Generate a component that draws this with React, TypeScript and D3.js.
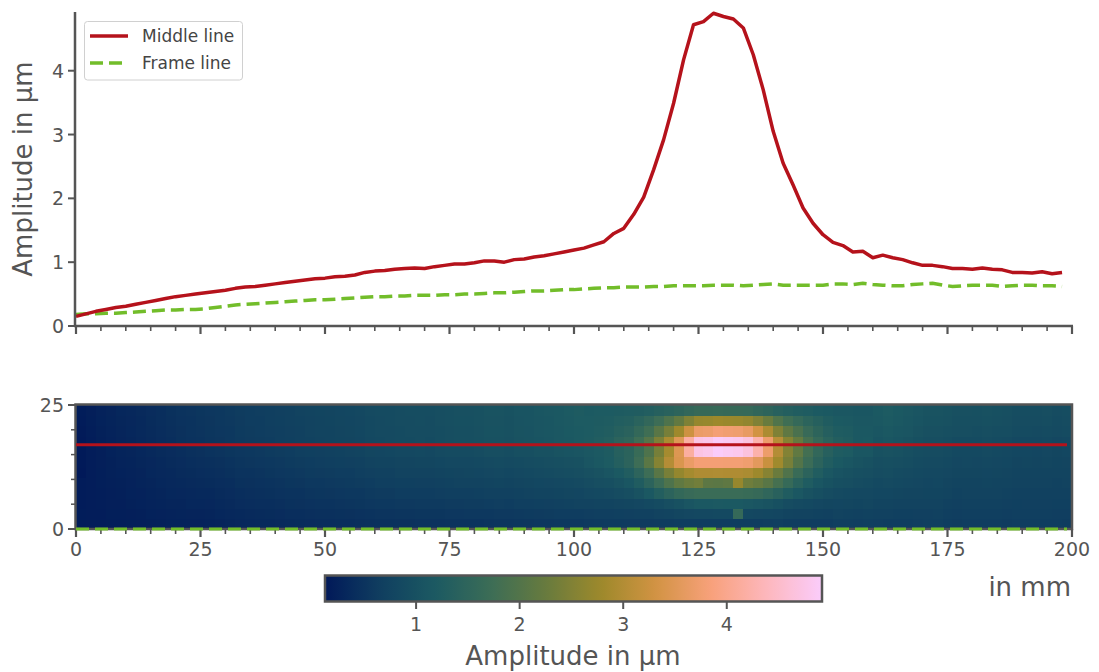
import React from 'react';
import * as d3 from 'd3';

// ---------------- data ----------------
const xTickLabels = [0, 25, 50, 75, 100, 125, 150, 175, 200];
const yTopTicks = [0, 1, 2, 3, 4];
const yHeatTicks = [0, 25];
const colorbarTicks = [1, 2, 3, 4];
const sampleStepMm = 2; // spacing of samples / cells along x (mm)
const rowHeight = 25 / 12; // 12 rows over 25 mm
const middleLineY = 17;
const frameLineY = 0;

const middleLine = [
  0.15, 0.19, 0.23, 0.26, 0.29, 0.31, 0.34, 0.37, 0.40, 0.43,
  0.46, 0.48, 0.50, 0.52, 0.54, 0.56, 0.59, 0.61, 0.62, 0.64,
  0.66, 0.68, 0.70, 0.72, 0.74, 0.75, 0.77, 0.78, 0.80, 0.84,
  0.86, 0.87, 0.89, 0.90, 0.91, 0.90, 0.93, 0.95, 0.97, 0.97,
  0.99, 1.02, 1.02, 1.00, 1.04, 1.05, 1.08, 1.10, 1.13, 1.16,
  1.19, 1.22, 1.27, 1.32, 1.45, 1.53, 1.75, 2.02, 2.45, 2.92,
  3.49, 4.17, 4.72, 4.77, 4.90, 4.85, 4.81, 4.67, 4.25, 3.70,
  3.05, 2.55, 2.21, 1.85, 1.61, 1.43, 1.31, 1.26, 1.16, 1.17,
  1.07, 1.11, 1.07, 1.04, 0.99, 0.95, 0.95, 0.93, 0.90, 0.90,
  0.89, 0.91, 0.89, 0.88, 0.84, 0.84, 0.83, 0.85, 0.82, 0.84,
];

const frameLine = [
  0.18, 0.19, 0.19, 0.20, 0.20, 0.21, 0.22, 0.23, 0.24, 0.25,
  0.25, 0.26, 0.26, 0.27, 0.29, 0.31, 0.33, 0.34, 0.35, 0.36,
  0.37, 0.38, 0.39, 0.40, 0.41, 0.41, 0.42, 0.43, 0.44, 0.45,
  0.46, 0.46, 0.47, 0.47, 0.48, 0.48, 0.48, 0.49, 0.49, 0.50,
  0.50, 0.51, 0.52, 0.52, 0.53, 0.54, 0.55, 0.55, 0.56, 0.57,
  0.57, 0.58, 0.59, 0.60, 0.60, 0.61, 0.61, 0.61, 0.62, 0.62,
  0.63, 0.63, 0.63, 0.63, 0.64, 0.64, 0.64, 0.63, 0.64, 0.65,
  0.66, 0.64, 0.64, 0.64, 0.64, 0.64, 0.66, 0.66, 0.65, 0.67,
  0.65, 0.64, 0.63, 0.63, 0.65, 0.66, 0.67, 0.64, 0.62, 0.63,
  0.64, 0.64, 0.64, 0.62, 0.63, 0.64, 0.64, 0.63, 0.63, 0.62,
];

const heatRow1 = [
  0.18, 0.19, 0.19, 0.21, 0.21, 0.22, 0.23, 0.25, 0.26, 0.27,
  0.28, 0.29, 0.29, 0.30, 0.32, 0.34, 0.36, 0.37, 0.38, 0.39,
  0.40, 0.42, 0.43, 0.44, 0.45, 0.45, 0.46, 0.47, 0.48, 0.50,
  0.51, 0.51, 0.52, 0.52, 0.53, 0.53, 0.53, 0.55, 0.55, 0.56,
  0.56, 0.57, 0.58, 0.58, 0.59, 0.60, 0.61, 0.62, 0.63, 0.64,
  0.64, 0.65, 0.66, 0.67, 0.68, 0.69, 0.70, 0.71, 0.74, 0.76,
  0.79, 0.82, 0.84, 0.84, 0.86, 0.86, 1.60, 0.84, 0.82, 0.81,
  0.80, 0.76, 0.74, 0.73, 0.72, 0.71, 0.73, 0.72, 0.71, 0.72,
  0.70, 0.70, 0.68, 0.68, 0.69, 0.69, 0.70, 0.67, 0.65, 0.66,
  0.67, 0.67, 0.67, 0.65, 0.66, 0.66, 0.66, 0.66, 0.65, 0.65,
];
const heatRow2 = [
  0.17, 0.19, 0.20, 0.22, 0.22, 0.24, 0.25, 0.27, 0.28, 0.30,
  0.30, 0.32, 0.32, 0.33, 0.35, 0.37, 0.40, 0.41, 0.42, 0.43,
  0.44, 0.46, 0.47, 0.48, 0.49, 0.50, 0.51, 0.52, 0.53, 0.55,
  0.56, 0.56, 0.58, 0.58, 0.59, 0.59, 0.59, 0.61, 0.61, 0.62,
  0.62, 0.64, 0.65, 0.64, 0.66, 0.67, 0.68, 0.69, 0.70, 0.72,
  0.73, 0.74, 0.75, 0.76, 0.78, 0.79, 0.82, 0.85, 0.90, 0.95,
  1.02, 1.09, 1.15, 1.16, 1.18, 1.17, 1.17, 1.14, 1.10, 1.05,
  0.99, 0.92, 0.88, 0.85, 0.82, 0.79, 0.80, 0.79, 0.77, 0.79,
  0.76, 0.76, 0.74, 0.73, 0.74, 0.73, 0.74, 0.71, 0.69, 0.70,
  0.70, 0.71, 0.70, 0.69, 0.68, 0.69, 0.69, 0.69, 0.68, 0.68,
];
const heatRow3 = [
  0.17, 0.19, 0.20, 0.22, 0.23, 0.25, 0.26, 0.28, 0.30, 0.32,
  0.33, 0.34, 0.35, 0.36, 0.38, 0.40, 0.43, 0.44, 0.45, 0.46,
  0.48, 0.49, 0.50, 0.52, 0.53, 0.54, 0.55, 0.56, 0.57, 0.59,
  0.61, 0.61, 0.63, 0.63, 0.64, 0.64, 0.65, 0.66, 0.67, 0.67,
  0.68, 0.70, 0.71, 0.70, 0.72, 0.73, 0.75, 0.75, 0.77, 0.79,
  0.80, 0.83, 0.85, 0.87, 0.91, 0.96, 1.04, 1.15, 1.31, 1.45,
  1.57, 1.65, 1.69, 1.69, 1.69, 1.69, 1.69, 1.66, 1.62, 1.52,
  1.40, 1.26, 1.14, 1.04, 0.97, 0.91, 0.88, 0.86, 0.84, 0.84,
  0.81, 0.81, 0.79, 0.78, 0.78, 0.77, 0.77, 0.75, 0.72, 0.73,
  0.73, 0.74, 0.73, 0.72, 0.71, 0.71, 0.71, 0.71, 0.70, 0.70,
];
const heatRow4 = [
  0.17, 0.19, 0.21, 0.23, 0.24, 0.26, 0.28, 0.30, 0.32, 0.34,
  0.35, 0.37, 0.38, 0.39, 0.41, 0.43, 0.46, 0.47, 0.48, 0.50,
  0.51, 0.53, 0.54, 0.56, 0.57, 0.58, 0.59, 0.60, 0.62, 0.64,
  0.66, 0.66, 0.68, 0.68, 0.69, 0.69, 0.70, 0.72, 0.73, 0.73,
  0.74, 0.76, 0.77, 0.76, 0.78, 0.79, 0.81, 0.82, 0.84, 0.86,
  0.87, 0.91, 0.95, 0.98, 1.04, 1.12, 1.26, 1.45, 1.70, 1.94,
  2.16, 2.28, 2.35, 2.12, 2.10, 2.15, 2.72, 2.32, 2.23, 2.07,
  1.85, 1.63, 1.41, 1.25, 1.12, 1.03, 0.98, 0.95, 0.91, 0.90,
  0.86, 0.87, 0.85, 0.83, 0.82, 0.80, 0.81, 0.78, 0.76, 0.76,
  0.76, 0.77, 0.76, 0.75, 0.73, 0.74, 0.73, 0.74, 0.72, 0.73,
];
const heatRow5 = [
  0.13, 0.19, 0.21, 0.24, 0.25, 0.27, 0.29, 0.32, 0.34, 0.36,
  0.38, 0.39, 0.41, 0.42, 0.44, 0.46, 0.49, 0.50, 0.51, 0.53,
  0.55, 0.56, 0.58, 0.60, 0.61, 0.62, 0.63, 0.64, 0.66, 0.69,
  0.70, 0.71, 0.73, 0.73, 0.74, 0.74, 0.75, 0.77, 0.78, 0.79,
  0.80, 0.82, 0.83, 0.81, 0.84, 0.85, 0.87, 0.89, 0.91, 0.93,
  0.95, 1.00, 1.04, 1.09, 1.17, 1.27, 1.47, 1.73, 2.07, 2.41,
  2.70, 2.87, 2.97, 2.97, 2.98, 2.97, 2.97, 2.93, 2.80, 2.57,
  2.27, 1.96, 1.67, 1.45, 1.27, 1.14, 1.06, 1.02, 0.97, 0.95,
  0.91, 0.93, 0.90, 0.88, 0.86, 0.84, 0.84, 0.82, 0.79, 0.79,
  0.79, 0.80, 0.79, 0.78, 0.76, 0.76, 0.76, 0.76, 0.75, 0.75,
];
const heatRow6 = [
  0.14, 0.19, 0.22, 0.24, 0.27, 0.28, 0.31, 0.33, 0.36, 0.38,
  0.40, 0.42, 0.44, 0.45, 0.47, 0.49, 0.52, 0.54, 0.55, 0.56,
  0.58, 0.60, 0.62, 0.63, 0.65, 0.66, 0.68, 0.69, 0.70, 0.73,
  0.75, 0.76, 0.78, 0.78, 0.79, 0.79, 0.81, 0.83, 0.84, 0.84,
  0.86, 0.88, 0.89, 0.87, 0.90, 0.91, 0.94, 0.95, 0.98, 1.00,
  1.02, 1.09, 1.15, 1.21, 1.32, 1.45, 1.73, 2.09, 2.55, 3.02,
  3.42, 3.65, 3.79, 3.79, 3.79, 3.78, 3.78, 3.73, 3.56, 3.23,
  2.82, 2.40, 2.00, 1.70, 1.45, 1.28, 1.17, 1.11, 1.05, 1.01,
  0.96, 0.98, 0.95, 0.93, 0.90, 0.87, 0.87, 0.85, 0.82, 0.83,
  0.82, 0.84, 0.82, 0.81, 0.78, 0.79, 0.78, 0.79, 0.77, 0.78,
];
const heatRow7 = [
  0.14, 0.19, 0.22, 0.25, 0.28, 0.30, 0.32, 0.35, 0.38, 0.40,
  0.43, 0.45, 0.47, 0.49, 0.51, 0.53, 0.55, 0.57, 0.58, 0.60,
  0.62, 0.64, 0.66, 0.68, 0.69, 0.70, 0.72, 0.73, 0.75, 0.79,
  0.80, 0.81, 0.83, 0.84, 0.85, 0.84, 0.87, 0.89, 0.90, 0.90,
  0.92, 0.95, 0.95, 0.93, 0.97, 0.98, 1.01, 1.02, 1.05, 1.08,
  1.10, 1.13, 1.18, 1.22, 1.36, 1.44, 1.66, 1.94, 2.39, 2.87,
  3.46, 4.15, 4.72, 4.78, 4.91, 4.85, 4.81, 4.66, 4.24, 3.69,
  3.02, 2.52, 2.17, 1.81, 1.56, 1.37, 1.25, 1.21, 1.11, 1.12,
  1.01, 1.04, 1.01, 0.98, 0.94, 0.91, 0.91, 0.89, 0.86, 0.86,
  0.86, 0.87, 0.86, 0.84, 0.81, 0.81, 0.80, 0.82, 0.79, 0.81,
];
const heatRow9 = [
  0.16, 0.20, 0.24, 0.27, 0.30, 0.32, 0.35, 0.38, 0.41, 0.44,
  0.47, 0.49, 0.51, 0.53, 0.55, 0.57, 0.60, 0.62, 0.63, 0.65,
  0.67, 0.69, 0.71, 0.73, 0.75, 0.76, 0.78, 0.79, 0.81, 0.85,
  0.87, 0.88, 0.90, 0.91, 0.92, 0.91, 0.94, 0.96, 0.98, 0.98,
  1.00, 1.03, 1.03, 1.01, 1.05, 1.06, 1.09, 1.11, 1.14, 1.17,
  1.20, 1.21, 1.24, 1.27, 1.36, 1.42, 1.57, 1.76, 2.07, 2.40,
  2.80, 3.27, 3.66, 3.70, 3.79, 3.75, 3.72, 3.62, 3.32, 2.94,
  2.48, 2.14, 1.89, 1.65, 1.48, 1.34, 1.25, 1.22, 1.15, 1.15,
  1.12, 1.16, 1.12, 1.09, 1.04, 1.00, 1.00, 0.98, 0.95, 0.95,
  0.94, 0.96, 0.94, 0.93, 0.89, 0.89, 0.88, 0.90, 0.87, 0.89,
];
const heatRow10 = [
  0.17, 0.21, 0.25, 0.28, 0.31, 0.33, 0.36, 0.39, 0.42, 0.45,
  0.48, 0.50, 0.52, 0.54, 0.56, 0.58, 0.61, 0.63, 0.64, 0.66,
  0.68, 0.70, 0.72, 0.74, 0.76, 0.77, 0.79, 0.80, 0.82, 0.86,
  0.88, 0.89, 0.91, 0.92, 0.93, 0.92, 0.95, 0.97, 0.99, 0.99,
  1.01, 1.04, 1.04, 1.02, 1.06, 1.07, 1.10, 1.12, 1.15, 1.18,
  1.21, 1.21, 1.23, 1.24, 1.30, 1.33, 1.43, 1.55, 1.73, 1.94,
  2.18, 2.47, 2.71, 2.73, 2.79, 2.76, 2.74, 2.68, 2.49, 2.26,
  1.97, 1.76, 1.61, 1.46, 1.35, 1.26, 1.20, 1.18, 1.14, 1.13,
  1.15, 1.19, 1.15, 1.12, 1.07, 1.03, 1.03, 1.01, 0.98, 0.98,
  0.97, 0.99, 0.97, 0.96, 0.92, 0.92, 0.91, 0.93, 0.90, 0.92,
];
const heatRow11 = [
  0.18, 0.22, 0.26, 0.29, 0.32, 0.34, 0.37, 0.40, 0.43, 0.46,
  0.49, 0.51, 0.53, 0.55, 0.57, 0.59, 0.62, 0.64, 0.65, 0.67,
  0.69, 0.71, 0.73, 0.75, 0.77, 0.78, 0.80, 0.81, 0.83, 0.87,
  0.89, 0.90, 0.92, 0.93, 0.94, 0.93, 0.96, 0.98, 1.00, 1.00,
  1.02, 1.05, 1.05, 1.03, 1.07, 1.08, 1.11, 1.13, 1.16, 1.19,
  1.22, 1.20, 1.21, 1.21, 1.23, 1.24, 1.26, 1.30, 1.35, 1.41,
  1.48, 1.55, 1.62, 1.62, 1.64, 1.62, 1.62, 1.60, 1.54, 1.48,
  1.39, 1.33, 1.28, 1.24, 1.20, 1.17, 1.14, 1.14, 1.12, 1.11,
  1.17, 1.21, 1.17, 1.14, 1.09, 1.05, 1.05, 1.03, 1.00, 1.00,
  0.99, 1.01, 0.99, 0.98, 0.94, 0.94, 0.93, 0.95, 0.92, 0.94,
];

// rows from bottom (y = 0) to top (y = 25)
const heatRows = [
  frameLine, heatRow1, heatRow2, heatRow3, heatRow4, heatRow5,
  heatRow6, heatRow7, middleLine, heatRow9, heatRow10, heatRow11,
];

// batlow colour map stops
const batlowStops = [
  '#011959', '#103F60', '#1C5A62', '#3C6D56', '#687B3E',
  '#9D892B', '#D29343', '#F8A17B', '#FDB7BC', '#FACCFA',
];

// ---------------- styles ----------------
const FONT = 'DejaVu Sans, Verdana, sans-serif';
const GREY = '#555555';
const TEXT = '#555555';
const RED = '#b5121b';
const GREEN = '#72bd2a';

export default function App() {
  const W = 1099;
  const H = 672;

  const x = d3.scaleLinear().domain([0, 200]).range([76, 1072]);
  const yTop = d3.scaleLinear().domain([0, 4.92]).range([326, 12]);
  const yHeat = d3.scaleLinear().domain([0, 25]).range([529, 405]);

  const allVals = heatRows.flat();
  const [vmin, vmax] = d3.extent(allVals) as [number, number];
  const interp = d3.piecewise(d3.interpolateRgb, batlowStops);
  const color = d3.scaleSequential(interp).domain([vmin, vmax]);

  const cbX = d3.scaleLinear().domain([vmin, vmax]).range([326, 821]);
  const cbTop = 576;
  const cbBot = 601;

  const xPos = (i: number) => i * sampleStepMm;

  const line = d3
    .line<number>()
    .x((_, i) => x(xPos(i)))
    .y((d) => yTop(d));

  const majorX = xTickLabels;
  const minorX = d3.range(0, 201, 5).filter((v) => v % 25 !== 0);
  const minorYHeat = [5, 10, 15, 20];

  const gradStops = d3.range(0, 1.0001, 0.02);

  return (
    <svg
      width={W}
      height={H}
      style={{ position: 'absolute', left: 0, top: 0, background: '#fff' }}
      fontFamily={FONT}
    >
      <defs>
        <linearGradient id="cbgrad" x1="0" x2="1" y1="0" y2="0">
          {gradStops.map((t) => (
            <stop key={t} offset={t} stopColor={interp(t)} />
          ))}
        </linearGradient>
      </defs>

      {/* ============ TOP PANEL ============ */}
      <g>
        <path
          d={line(frameLine) || ''}
          fill="none"
          stroke={GREEN}
          strokeWidth={3.5}
          strokeDasharray="13,6"
        />
        <path
          d={line(middleLine) || ''}
          fill="none"
          stroke={RED}
          strokeWidth={3.5}
          strokeLinejoin="round"
        />
        {/* spines */}
        <line x1={75} x2={75} y1={12} y2={327} stroke={GREY} strokeWidth={2.5} />
        <line x1={74} x2={1073} y1={326} y2={326} stroke={GREY} strokeWidth={2.5} />
        {/* y ticks */}
        {yTopTicks.map((t) => (
          <g key={t}>
            <line x1={68} x2={75} y1={yTop(t)} y2={yTop(t)} stroke={GREY} strokeWidth={2} />
            <text
              x={64}
              y={yTop(t) + 7}
              textAnchor="end"
              fontSize={19}
              fill={TEXT}
            >
              {t}
            </text>
          </g>
        ))}
        {/* x ticks */}
        {majorX.map((t) => (
          <line key={'M' + t} x1={x(t)} x2={x(t)} y1={326} y2={334} stroke={GREY} strokeWidth={2.2} />
        ))}
        {minorX.map((t) => (
          <line key={'m' + t} x1={x(t)} x2={x(t)} y1={326} y2={331} stroke={GREY} strokeWidth={1.6} />
        ))}
        <text
          transform="translate(32,169) rotate(-90)"
          textAnchor="middle"
          fontSize={26}
          fill={TEXT}
        >
          Amplitude in µm
        </text>

        {/* legend */}
        <rect x={84.5} y={21.5} width={158} height={58.5} rx={3} fill="#fff" fillOpacity={0.8} stroke="#d0d0d0" strokeWidth={1} />
        <line x1={90} x2={128} y1={36} y2={36} stroke={RED} strokeWidth={3.5} />
        <text x={142} y={42} fontSize={17} fill="#444">Middle line</text>
        <line x1={90} x2={128} y1={63} y2={63} stroke={GREEN} strokeWidth={3.5} strokeDasharray="13,6" />
        <text x={142} y={69} fontSize={17} fill="#444">Frame line</text>
      </g>

      {/* ============ HEATMAP ============ */}
      <g shapeRendering="crispEdges">
        {heatRows.map((row, r) =>
          row.map((v, c) => {
            const x0 = x(xPos(c));
            const x1 = x(xPos(c) + sampleStepMm);
            const yT = yHeat((r + 1) * rowHeight);
            const yB = yHeat(r * rowHeight);
            return (
              <rect
                key={r + '-' + c}
                x={x0}
                y={yT}
                width={x1 - x0 + 0.6}
                height={yB - yT + 0.6}
                fill={color(v)}
              />
            );
          })
        )}
      </g>
      <g>
        {/* frame */}
        <rect x={75.5} y={404.5} width={996.5} height={124.5} fill="none" stroke={GREY} strokeWidth={2.5} />
        {/* y ticks */}
        {yHeatTicks.map((t) => (
          <g key={t}>
            <line x1={68} x2={75} y1={yHeat(t)} y2={yHeat(t)} stroke={GREY} strokeWidth={2} />
            <text x={64} y={yHeat(t) + 7} textAnchor="end" fontSize={19} fill={TEXT}>
              {t}
            </text>
          </g>
        ))}
        {minorYHeat.map((t) => (
          <line key={t} x1={71} x2={75} y1={yHeat(t)} y2={yHeat(t)} stroke={GREY} strokeWidth={1.5} />
        ))}
        {/* x ticks */}
        {majorX.map((t) => (
          <g key={'hx' + t}>
            <line x1={x(t)} x2={x(t)} y1={529} y2={537} stroke={GREY} strokeWidth={2.2} />
            <text x={x(t)} y={556} textAnchor="middle" fontSize={19} fill={TEXT}>
              {t}
            </text>
          </g>
        ))}
        {minorX.map((t) => (
          <line key={'hm' + t} x1={x(t)} x2={x(t)} y1={529} y2={534} stroke={GREY} strokeWidth={1.6} />
        ))}
        {/* overlay lines */}
        <line x1={x(0)} x2={x(199)} y1={yHeat(middleLineY)} y2={yHeat(middleLineY)} stroke={RED} strokeWidth={3} />
        <line
          x1={x(0)}
          x2={x(199)}
          y1={yHeat(frameLineY)}
          y2={yHeat(frameLineY)}
          stroke={GREEN}
          strokeWidth={3}
          strokeDasharray="13,6"
        />
        <text x={1071} y={596} textAnchor="end" fontSize={26} fill={TEXT}>
          in mm
        </text>
      </g>

      {/* ============ COLORBAR ============ */}
      <g>
        <rect x={cbX(vmin)} y={cbTop} width={cbX(vmax) - cbX(vmin)} height={cbBot - cbTop} fill="url(#cbgrad)" />
        <rect x={325} y={575.5} width={497} height={26} fill="none" stroke={GREY} strokeWidth={2.5} />
        {colorbarTicks.map((t) => (
          <g key={t}>
            <line x1={cbX(t)} x2={cbX(t)} y1={602} y2={609} stroke={GREY} strokeWidth={2} />
            <text x={cbX(t)} y={631} textAnchor="middle" fontSize={19} fill={TEXT}>
              {t}
            </text>
          </g>
        ))}
        <text x={573} y={665} textAnchor="middle" fontSize={26} fill={TEXT}>
          Amplitude in µm
        </text>
      </g>
    </svg>
  );
}
